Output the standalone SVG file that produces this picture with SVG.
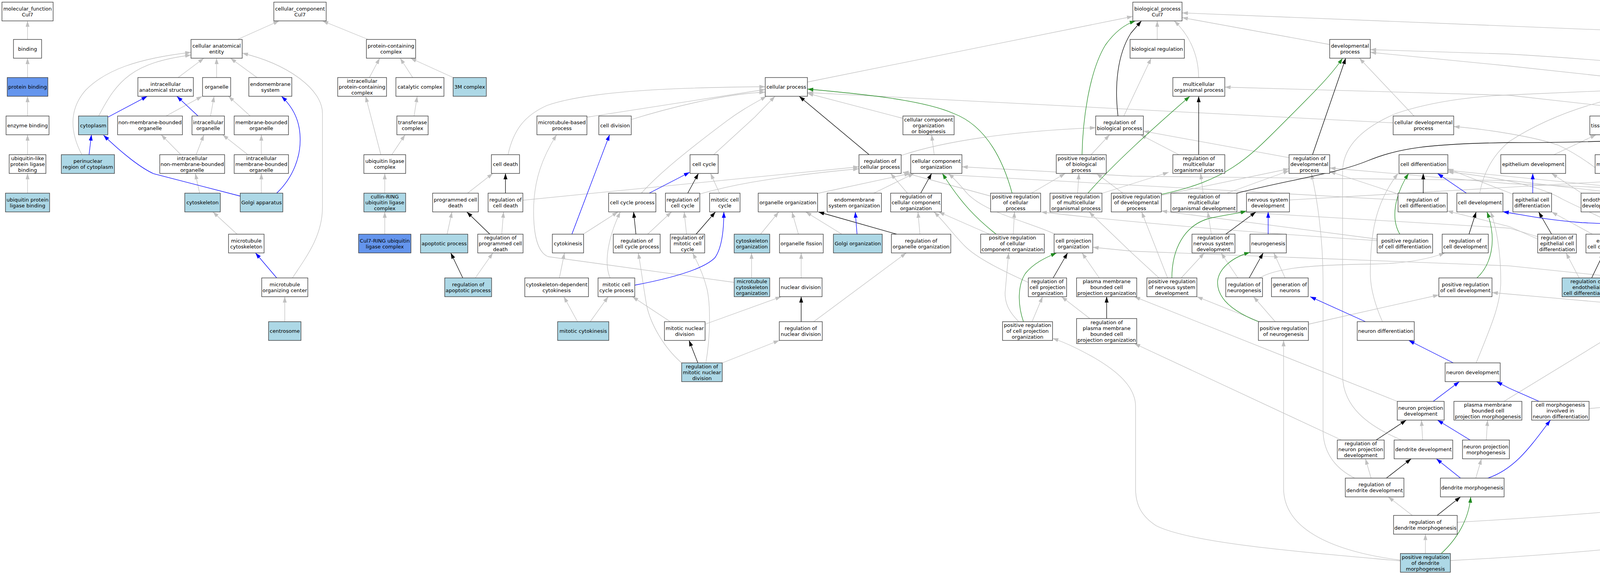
<svg xmlns="http://www.w3.org/2000/svg" width="5792" height="1472" viewBox="0 0 5792 1472">
<style>
.n rect{fill:#fff;stroke:#3c3c3c;stroke-width:1.4}
.lb rect{fill:#add8e6}
.cf rect{fill:#6495ed}
.n text{font-family:"DejaVu Sans","Liberation Sans",sans-serif;font-size:13px;text-anchor:middle;fill:#000}
#edges path{fill:none;stroke-width:1.3}
#edges .g{stroke:#c0c0c0;marker-end:url(#ag)}
#edges .k{stroke:#000;marker-end:url(#ak)}
#edges .b{stroke:#0000ff;marker-end:url(#ab)}
#edges .v{stroke:#228b22;marker-end:url(#av)}
</style>
<defs>
<marker id="ag" viewBox="0 0 15 10" refX="15" refY="5" markerWidth="15" markerHeight="10" orient="auto" markerUnits="userSpaceOnUse"><path d="M0,0L15,5L0,10z" fill="#c0c0c0"/></marker>
<marker id="ak" viewBox="0 0 15 10" refX="15" refY="5" markerWidth="15" markerHeight="10" orient="auto" markerUnits="userSpaceOnUse"><path d="M0,0L15,5L0,10z" fill="#000"/></marker>
<marker id="ab" viewBox="0 0 15 10" refX="15" refY="5" markerWidth="15" markerHeight="10" orient="auto" markerUnits="userSpaceOnUse"><path d="M0,0L15,5L0,10z" fill="#0000ff"/></marker>
<marker id="av" viewBox="0 0 15 10" refX="15" refY="5" markerWidth="15" markerHeight="10" orient="auto" markerUnits="userSpaceOnUse"><path d="M0,0L15,5L0,10z" fill="#228b22"/></marker>
</defs>
<rect width="5792" height="1472" fill="#fff"/>
<g id="edges">
<path class="g" d="M70.5,101L70.5,53.5"/>
<path class="g" d="M70.5,198.5L70.5,149"/>
<path class="g" d="M70.5,297L70.5,246.5"/>
<path class="g" d="M70.5,396L70.5,345"/>
<path class="g" d="M70.5,494.5L70.5,444"/>
<path class="g" d="M608,101L714.6,53.5"/>
<path class="g" d="M942.5,101L825.5,53.5"/>
<path class="g" d="M456,198.5L522,149"/>
<path class="g" d="M554.5,198.5L554.5,149"/>
<path class="g" d="M658,198.5L590,149"/>
<path class="g" d="M252.6,297C300,205 340,160 489,141"/>
<path class="g" d="M209.5,396C180,340 175,280 220,230C270,180 350,150 489,134"/>
<path class="g" d="M425,297L517.5,246.5"/>
<path class="g" d="M539,297L548,246.5"/>
<path class="g" d="M640.6,297L585,246.5"/>
<path class="g" d="M463,396L412.7,345"/>
<path class="g" d="M502,396L522,345"/>
<path class="g" d="M634.5,396L570,345"/>
<path class="g" d="M669,396L669,345"/>
<path class="g" d="M511,494.5L500,444"/>
<path class="g" d="M669,494.5L669,444"/>
<path class="g" d="M606.8,599.5L545,542.5"/>
<path class="g" d="M748.5,711.5C790,650 825.5,600 825.5,530L825.5,290C825.5,230 740,165 620,136"/>
<path class="g" d="M729,823.5L729,759.5"/>
<path class="g" d="M945.6,198.5L972,149"/>
<path class="g" d="M975,396L936,246.5"/>
<path class="g" d="M1003,396L1037,345"/>
<path class="g" d="M1060,297L1068,246.5"/>
<path class="g" d="M1056.5,198.5L1024.5,149"/>
<path class="g" d="M1160,198.5L1051,149"/>
<path class="g" d="M985,494.5L985,444"/>
<path class="g" d="M985,599.5L985,542.5"/>
<path class="b" d="M277,299.5L377,246.5"/>
<path class="b" d="M507,297L452.8,246.5"/>
<path class="b" d="M228,396L234,345"/>
<path class="b" d="M615,502L394,445C360,430 310,390 265,346"/>
<path class="b" d="M708.4,494.5C750,455 772,400 768,345C765,300 745,270 720.7,246.5"/>
<path class="b" d="M708.4,711.5L654,647.5"/>
<path class="g" d="M2067,210L2900,42"/>
<path class="g" d="M3068.6,198.5C3068,140 3045,90 3006,53.5"/>
<path class="g" d="M2962.5,101L2962.5,53.5"/>
<path class="g" d="M3404,114L3026,45"/>
<path class="g" d="M5203.5,121L3026,33"/>
<path class="g" d="M2311.5,303L2067,239"/>
<path class="g" d="M2307,398C2420,360 2600,335 2805,327"/>
<path class="g" d="M3566.5,314.5L2067,237"/>
<path class="g" d="M2391.5,396L2385,345"/>
<path class="g" d="M2093.4,495L2330,444"/>
<path class="g" d="M2237,494.5L2340,444"/>
<path class="g" d="M2323,494.5L2280,444"/>
<path class="g" d="M2536,502L2311,441"/>
<path class="g" d="M3579,512L2311,441"/>
<path class="g" d="M1338.7,512.6L2199,427"/>
<path class="g" d="M1791.6,496.6C1850,480 1950,455 2199,432"/>
<path class="g" d="M2793,396L2840.6,345"/>
<path class="g" d="M2640.6,494.5L2727,444"/>
<path class="g" d="M2758.7,494.5L2762,444"/>
<path class="g" d="M2874.5,494.5L2807,444"/>
<path class="g" d="M2877,297L2947,149"/>
<path class="g" d="M4345,298L3864,244L3135.5,223"/>
<path class="g" d="M3620,297L3480,149"/>
<path class="g" d="M4278,214L3864,169L3508,134"/>
<path class="g" d="M4910,396C4880,340 4850,320 4800,295C4650,220 4400,170 3864,138.5L3508,127"/>
<path class="g" d="M4187,297L4295,246.5"/>
<path class="g" d="M4292,297L4329,246.5"/>
<path class="g" d="M4405,297L4369,246.5"/>
<path class="g" d="M4541.6,396C4542,320 4510,270 4420,244"/>
<path class="g" d="M4764.6,396C4740,300 4660,245 4420,226"/>
<path class="g" d="M3788,494.5C3800,430 3830,390 3864,362C3990,280 4150,240 4278,228"/>
<path class="g" d="M3588,1126.5C3500,1090 3437,1040 3437,960L3437,440C3437,380 3480,330 3575,290C3680,255 3800,245 3864,243L4278,225"/>
<path class="g" d="M2973,500L3300,432"/>
<path class="g" d="M2821,495L2992,441"/>
<path class="g" d="M3080,494.5L3073.6,444"/>
<path class="g" d="M3141,494.5L3300,437"/>
<path class="g" d="M3468,1224C3410,1195 3387,1150 3387,1100L3387,720C3387,600 3370,500 3357,444"/>
<path class="g" d="M3579,496.6L3404,439"/>
<path class="g" d="M3300,403.7L2927,335.6"/>
<path class="g" d="M3018,396L2919.6,345"/>
<path class="g" d="M3101,599.5L3092,542.5"/>
<path class="g" d="M3024,711.5L3083,647.5"/>
<path class="g" d="M2989,711.5L2922.6,542.5"/>
<path class="g" d="M2967,711.5L2898,648L2788,542.5"/>
<path class="g" d="M3525.5,612L2973,540"/>
<path class="g" d="M3525.5,616C3200,595 2900,570 2665,542.5"/>
<path class="g" d="M3264.6,823.5L3209,759.5"/>
<path class="g" d="M3225,823.5L3064,759.5"/>
<path class="g" d="M3349.5,830L3683.5,755"/>
<path class="g" d="M3169,711.5L3126,647.5"/>
<path class="g" d="M3224.5,711.5C3260,690 3330,678 3514,676C3600,675 3660,662 3699,647.5"/>
<path class="g" d="M3290,711.5L3261,647.5"/>
<path class="g" d="M3539,823.5C3520,780 3508,740 3508,700C3508,600 3520,520 3579,444"/>
<path class="g" d="M3779,929C3815,840 3842,780 3842,720C3842,640 3830,580 3816,542.5"/>
<path class="g" d="M3577,1027.5L2904,759.5"/>
<path class="g" d="M3434,1126.5L2904,879.5"/>
<path class="g" d="M3642,1126.5L3639,1075.5"/>
<path class="g" d="M3805,1126.5L3808,1075.5"/>
<path class="g" d="M3778,1224L3792.6,1174.5"/>
<path class="g" d="M3510,1224L3495.6,1174.5"/>
<path class="g" d="M3615.6,1319.5L3554,1272"/>
<path class="g" d="M3731,1337C4200,1310 4600,1270 4680,1220C4740,1180 4751,1140 4751,1100L4751,736C4751,650 4775,600 4794,542.5"/>
<path class="g" d="M3649,1417L3649,1367.5"/>
<path class="g" d="M3713,1435C4200,1410 4650,1350 4760,1300C4820,1270 4833,1240 4833,1200L4833,1040C4833,960 4845,910 4855,879.5"/>
<path class="g" d="M3585,1436C3300,1410 3050,1390 2960,1346C2920,1320 2907,1290 2907,1250L2907,1040C2907,990 2860,950 2800,915C2760,893 2730,878 2694.5,866"/>
<path class="g" d="M3585,1434C3400,1410 3286,1350 3286,1250L3286,871.5"/>
<path class="g" d="M3850,1027.5L4289,759.5"/>
<path class="g" d="M4068,1046C4350,1020 4500,1000 4545,978L4922,647.5"/>
<path class="g" d="M4329,711.5L4337,647.5"/>
<path class="g" d="M4273,723L3864,680.6L2898,643L2797.5,633"/>
<path class="g" d="M4995.6,599.5L5090.7,542.5"/>
<path class="g" d="M4581.7,823.5L4652.5,736L4830,596L4916,542.5"/>
<path class="g" d="M4164,494.5C4100,440 4050,400 3990,372C3930,350 3800,330 3721.5,324"/>
<path class="g" d="M4164,497L3864,462L2898,451L2462.5,427"/>
<path class="g" d="M4294,497C4500,470 4700,455 4866,444"/>
<path class="g" d="M3978,396L4086,345"/>
<path class="g" d="M4166,396L4148.6,345"/>
<path class="g" d="M4344.5,396L4301,345"/>
<path class="g" d="M3873,497L3706,432"/>
<path class="g" d="M4049,494.5L3972,444"/>
<path class="g" d="M4076.5,599.5L3972,542.5"/>
<path class="g" d="M4042.6,711.5L4009,647.5"/>
<path class="g" d="M3936.5,612L3864,580L3705,540"/>
<path class="g" d="M3936.5,606L3864,584L3166,542.5"/>
<path class="g" d="M4317,599.5L4258,542.5"/>
<path class="g" d="M4318.5,497L3706,436"/>
<path class="g" d="M4471,599.5L4409,542.5"/>
<path class="g" d="M4540,494.5L4540,444"/>
<path class="g" d="M4628,599.5C4640,540 4620,480 4582,444"/>
<path class="g" d="M4606,711.5C4680,660 4696,600 4696,520C4696,440 4650,360 4560,290C4520,265 4470,252 4421,246"/>
<path class="g" d="M4440,929C4300,820 4250,760 4240,700C4225,600 4120,570 4000,510C3950,480 3850,455 3706,440"/>
<path class="g" d="M4737.5,506L3864,470L3404,430"/>
<path class="g" d="M3301,512L4468,444"/>
<path class="g" d="M5150,198.5L5228.8,149"/>
<path class="g" d="M5266.5,198.5L5266.5,149"/>
<path class="g" d="M5382,198.5L5308.5,149"/>
<path class="g" d="M5509,202L5329.5,147"/>
<path class="g" d="M5262.5,297L5265.6,246.5"/>
<path class="g" d="M5300.6,297L5380,246.5"/>
<path class="g" d="M5420,297L5420,246.5"/>
<path class="g" d="M5532.5,297L5459,246.5"/>
<path class="g" d="M5568.5,297L5568.5,246.5"/>
<path class="g" d="M5228.8,396C5195,365 5160,320 5125,246.5"/>
<path class="g" d="M5261,396L5261,345"/>
<path class="g" d="M5299.4,396L5382,345"/>
<path class="g" d="M5404.8,396L5413,345"/>
<path class="g" d="M5477,396L5332,347"/>
<path class="g" d="M5553,396L5563,345"/>
<path class="g" d="M5639.8,396L5486.4,345"/>
<path class="g" d="M5667,396L5603,345"/>
<path class="g" d="M5262.5,494.5L5262.5,444"/>
<path class="g" d="M5363.7,494.5L5296,444"/>
<path class="g" d="M5395.7,494.5L5397.5,444"/>
<path class="g" d="M5487.7,497L5321.5,444"/>
<path class="g" d="M5545,494.5L5545,444"/>
<path class="g" d="M5581.6,494.5L5661.3,444"/>
<path class="g" d="M5392,591.5L5393,542.5"/>
<path class="g" d="M5485,596C5440,570 5380,555 5302,540"/>
<path class="g" d="M5704,599.5L5700,444"/>
<path class="g" d="M5392,711.5L5392,655.5"/>
<path class="g" d="M5614,711.5L5572,655.5"/>
<path class="g" d="M5651,711.5L5689,647.5"/>
<path class="g" d="M5392,823.5L5392,759.5"/>
<path class="g" d="M5634.5,823.5L5634.5,759.5"/>
<path class="g" d="M4962,494.5L4943.5,444"/>
<path class="g" d="M5084.6,494.5L4983.4,444"/>
<path class="g" d="M5057,599.5L4872,542.5"/>
<path class="g" d="M5008,703.5L5081.5,647.5"/>
<path class="g" d="M4894.4,815.5L4937,767.5"/>
<path class="g" d="M4789,834.6L3819.5,749"/>
<path class="g" d="M1300.5,396C1315,330 1345,295 1400,270C1500,235 1700,224 1959,222"/>
<path class="g" d="M1502.6,300L1959,229"/>
<path class="g" d="M1616,306C1700,280 1850,240 1959,236"/>
<path class="g" d="M1642,494.5C1690,440 1780,370 1860,310C1900,280 1930,265 1962,246.5"/>
<path class="g" d="M1827,396L1932,300L1984,246.5"/>
<path class="g" d="M1197,494.5L1261.7,444"/>
<path class="g" d="M1842,494.5L1819,444"/>
<path class="g" d="M1144.6,599.5L1157,542.5"/>
<path class="g" d="M1284.5,599.5L1289,542.5"/>
<path class="g" d="M1493,599.5L1582,542.5"/>
<path class="g" d="M1658,599.5L1719,542.5"/>
<path class="g" d="M1757.6,599.5L1751.4,542.5"/>
<path class="g" d="M1216.7,711.5L1261.7,647.5"/>
<path class="g" d="M1432,711.5L1445,647.5"/>
<path class="g" d="M1562,711.5C1548,680 1551,620 1588,542.5"/>
<path class="g" d="M1880,723L1403,657C1375,645 1366,600 1366,540C1366,460 1390,400 1425,345"/>
<path class="g" d="M1807,929C1819,860 1819,780 1810,740C1800,700 1785,670 1773,647.5"/>
<path class="g" d="M1745,929C1700,890 1665,830 1655,780C1645,720 1640,680 1634,647.5"/>
<path class="g" d="M1478.5,823.5L1443.4,759.5"/>
<path class="g" d="M1511,823.5L1557,759.5"/>
<path class="g" d="M1716,823.5L1619,759.5"/>
<path class="g" d="M1805,830L2000,759.5"/>
<path class="g" d="M1849,929L1995,871.5"/>
<path class="g" d="M1924,711.5L1924,647.5"/>
<path class="g" d="M1947,599.5L1993.6,542.5"/>
<path class="g" d="M2044,599.5L2027.5,542.5"/>
<path class="g" d="M2155,599.5L2062.6,542.5"/>
<path class="g" d="M2355,599.5L2350,542.5"/>
<path class="g" d="M2051,711.5L2051,647.5"/>
<path class="g" d="M2083,823.5L2320,647.5"/>
<path class="g" d="M2533,599.5L2403,542.5"/>
<path class="g" d="M2594,599.5L2597,542.5"/>
<path class="g" d="M2701,599.5C2640,570 2520,545 2474,493C2455,470 2440,455 2428,444"/>
<path class="g" d="M2632.5,723C2560,690 2500,660 2470,630C2440,600 2420,570 2391,542.5"/>
<path class="g" d="M2608,823.5C2585,800 2573,780 2573,750L2582,647.5"/>
<path class="g" d="M2642,823.5L2669,759.5"/>
<path class="g" d="M2814,711.5L2770,647.5"/>
<path class="g" d="M2790,815.5L2717.5,759.5"/>
<path class="k" d="M2862,297C2853,220 2860,140 2895,85L2922,53.5"/>
<path class="k" d="M2225,396L2046,246.5"/>
<path class="k" d="M2357,494.5L2385,444"/>
<path class="k" d="M3068.6,396L3068.6,246.5"/>
<path class="k" d="M3360,396L3445,149"/>
<path class="k" d="M3166.6,494.5C3300,460 3420,445 3500,412C3580,380 3650,368 3864,365C4050,366 4200,360 4345,345"/>
<path class="k" d="M3138,599.5L3215,542.5"/>
<path class="k" d="M3198,711.5L3233.7,647.5"/>
<path class="k" d="M3643.5,494.5L3643.5,444"/>
<path class="k" d="M3760.6,599.5L3779,542.5"/>
<path class="k" d="M3523,1126.5L3600,1075.5"/>
<path class="k" d="M3549,1224L3612.6,1174.5"/>
<path class="k" d="M3679,1319.5L3739,1272"/>
<path class="k" d="M4074.7,711.5L4105.5,647.5"/>
<path class="k" d="M3972,599.5L3939,542.5"/>
<path class="k" d="M4839,494.5L4897.5,444"/>
<path class="k" d="M5118,599.5L5127.6,542.5"/>
<path class="k" d="M4963.7,703.5L4959,647.5"/>
<path class="k" d="M1294,494.5L1294,444"/>
<path class="k" d="M1760.6,494.5L1788,444"/>
<path class="k" d="M1254,599.5L1195,542.5"/>
<path class="k" d="M1628,599.5L1622,542.5"/>
<path class="k" d="M1782,599.5L1831.5,542.5"/>
<path class="k" d="M1184.7,711.5L1154,647.5"/>
<path class="k" d="M1786.5,929L1764,871.5"/>
<path class="k" d="M2295.4,599.5L2095,542.5"/>
<path class="k" d="M2051,823.5L2051,759.5"/>
<path class="k" d="M2696,711.5L2733,647.5"/>
<path class="k" d="M2833,815.5L2833,759.5"/>
<path class="b" d="M1662,494.5L1765.6,441"/>
<path class="b" d="M1464,599.5L1560.5,345"/>
<path class="b" d="M1625,730C1720,712 1800,690 1830,660C1848,635 1853,590 1853,542.5"/>
<path class="b" d="M2194,599.5L2189.5,542.5"/>
<path class="b" d="M3246.5,599.5L3246.5,542.5"/>
<path class="b" d="M3754,494.5L3680,444"/>
<path class="b" d="M3495.6,823.5L3354,759.5"/>
<path class="b" d="M3720.4,929L3606.4,871.5"/>
<path class="b" d="M3669,1027.5L3736,977"/>
<path class="b" d="M3940,1027.5L3864,994L3831,977"/>
<path class="b" d="M3763.5,1126.5L3680,1075.5"/>
<path class="b" d="M3739,1224L3677,1174.5"/>
<path class="b" d="M3808.6,1224C3880,1200 3920,1140 3969,1075.5"/>
<path class="b" d="M4200,396L4249,345"/>
<path class="b" d="M4511,396L4455,345"/>
<path class="b" d="M4711.5,401L4504.6,345"/>
<path class="b" d="M3923.8,494.5L3923.8,444"/>
<path class="b" d="M4115,599.5L4101,542.5"/>
<path class="b" d="M4332,494.5L4230.5,444"/>
<path class="b" d="M4599,599.5L4560,542.5"/>
<path class="b" d="M4575.5,711.5L4600,647.5"/>
<path class="b" d="M4565,823.5L4565,759.5"/>
<path class="b" d="M4498.6,929L4541.7,871.5"/>
<path class="b" d="M4902,396L4830,345C4760,290 4620,245 4420,229"/>
<path class="b" d="M4925,494.5L4826,444"/>
<path class="b" d="M4889.5,615L4830,605C4600,585 4300,582 4050,570C3950,562 3900,550 3847.5,542"/>
<path class="b" d="M4379.7,723L4603,676C4700,650 4800,615 4900,580L5068,542.5"/>
<path class="b" d="M5543.5,591.5L5544.7,542.5"/>
<path class="v" d="M2770,396C2772,300 2790,180 2830,115C2855,80 2880,62 2907,53.5"/>
<path class="v" d="M2591,494.5C2565,400 2520,320 2440,290C2360,255 2200,240 2067,228"/>
<path class="v" d="M2785,494.5C2850,420 2950,330 3046,246.5"/>
<path class="v" d="M2973,497.6C3150,460 3200,400 3300,300C3370,230 3410,190 3437,149"/>
<path class="v" d="M2550,599.5C2500,560 2460,520 2412.5,444"/>
<path class="v" d="M2620,823.5C2605,780 2605,730 2625,700C2645,675 2675,660 2705,647.5"/>
<path class="v" d="M3000,711.5C3000,640 3030,575 3100,558C3150,548 3170,546 3191,540"/>
<path class="v" d="M3221.4,823.5C3150,795 3115,760 3117,720C3120,690 3150,660 3200,646"/>
<path class="v" d="M3583.6,599.5C3560,560 3570,500 3606,444"/>
<path class="v" d="M3781,711.5C3815,680 3835,620 3806.6,542.5"/>
<path class="v" d="M3689.5,1417C3730,1380 3760,1330 3765,1272"/>
<path class="v" d="M4864,815.5C4866,760 4880,700 4935,647.5"/>
</g>
<g id="n1" class="n"><rect x="5" y="5.5" width="131" height="48"/><text><tspan x="70.5" y="26.5">molecular_function</tspan><tspan x="70.5" y="41.5">Cul7</tspan></text></g>
<g id="n2" class="n"><rect x="34.5" y="101" width="72" height="48"/><text><tspan x="70.5" y="129.5">binding</tspan></text></g>
<g id="n3" class="n cf"><rect x="18.5" y="198.5" width="104" height="48"/><text><tspan x="70.5" y="227">protein binding</tspan></text></g>
<g id="n4" class="n"><rect x="15.5" y="297" width="110" height="48"/><text><tspan x="70.5" y="325.5">enzyme binding</tspan></text></g>
<g id="n5" class="n"><rect x="23.5" y="396" width="94" height="48"/><text><tspan x="70.5" y="409.5">ubiquitin-like</tspan><tspan x="70.5" y="424.5">protein ligase</tspan><tspan x="70.5" y="439.5">binding</tspan></text></g>
<g id="n6" class="n lb"><rect x="14" y="494.5" width="113" height="48"/><text><tspan x="70.5" y="515.5">ubiquitin protein</tspan><tspan x="70.5" y="530.5">ligase binding</tspan></text></g>
<g id="c0" class="n"><rect x="701" y="5.5" width="134" height="48"/><text><tspan x="768" y="26.5">cellular_component</tspan><tspan x="768" y="41.5">Cul7</tspan></text></g>
<g id="c1" class="n"><rect x="489" y="101" width="131" height="48"/><text><tspan x="554.5" y="122">cellular anatomical</tspan><tspan x="554.5" y="137">entity</tspan></text></g>
<g id="c2" class="n"><rect x="938" y="101" width="126" height="48"/><text><tspan x="1001" y="122">protein-containing</tspan><tspan x="1001" y="137">complex</tspan></text></g>
<g id="c3" class="n"><rect x="353" y="198.5" width="142" height="48"/><text><tspan x="424" y="219.5">intracellular</tspan><tspan x="424" y="234.5">anatomical structure</tspan></text></g>
<g id="c4" class="n"><rect x="518.5" y="198.5" width="72" height="48"/><text><tspan x="554.5" y="227">organelle</tspan></text></g>
<g id="c5" class="n"><rect x="637" y="198.5" width="110" height="48"/><text><tspan x="692" y="219.5">endomembrane</tspan><tspan x="692" y="234.5">system</tspan></text></g>
<g id="c6" class="n"><rect x="864.5" y="198.5" width="125" height="48"/><text><tspan x="927" y="212">intracellular</tspan><tspan x="927" y="227">protein-containing</tspan><tspan x="927" y="242">complex</tspan></text></g>
<g id="c7" class="n"><rect x="1013.5" y="198.5" width="123" height="48"/><text><tspan x="1075" y="227">catalytic complex</tspan></text></g>
<g id="c8" class="n lb"><rect x="1160" y="198.5" width="85" height="48"/><text><tspan x="1202.5" y="227">3M complex</tspan></text></g>
<g id="c9" class="n lb"><rect x="201" y="297" width="75" height="48"/><text><tspan x="238.5" y="325.5">cytoplasm</tspan></text></g>
<g id="c10" class="n"><rect x="301" y="297" width="166" height="48"/><text><tspan x="384" y="318">non-membrane-bounded</tspan><tspan x="384" y="333">organelle</tspan></text></g>
<g id="c11" class="n"><rect x="491.5" y="297" width="83" height="48"/><text><tspan x="533" y="318">intracellular</tspan><tspan x="533" y="333">organelle</tspan></text></g>
<g id="c12" class="n"><rect x="599.5" y="297" width="139" height="48"/><text><tspan x="669" y="318">membrane-bounded</tspan><tspan x="669" y="333">organelle</tspan></text></g>
<g id="c13" class="n"><rect x="1016" y="297" width="80" height="48"/><text><tspan x="1056" y="318">transferase</tspan><tspan x="1056" y="333">complex</tspan></text></g>
<g id="c14" class="n lb"><rect x="157" y="396" width="136" height="48"/><text><tspan x="225" y="417">perinuclear</tspan><tspan x="225" y="432">region of cytoplasm</tspan></text></g>
<g id="c15" class="n"><rect x="409" y="396" width="166" height="48"/><text><tspan x="492" y="409.5">intracellular</tspan><tspan x="492" y="424.5">non-membrane-bounded</tspan><tspan x="492" y="439.5">organelle</tspan></text></g>
<g id="c16" class="n"><rect x="599.5" y="396" width="139" height="48"/><text><tspan x="669" y="409.5">intracellular</tspan><tspan x="669" y="424.5">membrane-bounded</tspan><tspan x="669" y="439.5">organelle</tspan></text></g>
<g id="c17" class="n"><rect x="931.5" y="396" width="107" height="48"/><text><tspan x="985" y="417">ubiquitin ligase</tspan><tspan x="985" y="432">complex</tspan></text></g>
<g id="c18" class="n lb"><rect x="473" y="494.5" width="91" height="48"/><text><tspan x="518.5" y="523">cytoskeleton</tspan></text></g>
<g id="c19" class="n lb"><rect x="615" y="494.5" width="109" height="48"/><text><tspan x="669.5" y="523">Golgi apparatus</tspan></text></g>
<g id="c20" class="n lb"><rect x="931.5" y="494.5" width="107" height="48"/><text><tspan x="985" y="508">cullin-RING</tspan><tspan x="985" y="523">ubiquitin ligase</tspan><tspan x="985" y="538">complex</tspan></text></g>
<g id="c21" class="n"><rect x="585" y="599.5" width="91" height="48"/><text><tspan x="630.5" y="620.5">microtubule</tspan><tspan x="630.5" y="635.5">cytoskeleton</tspan></text></g>
<g id="c22" class="n cf"><rect x="918" y="599.5" width="134" height="48"/><text><tspan x="985" y="620.5">Cul7-RING ubiquitin</tspan><tspan x="985" y="635.5">ligase complex</tspan></text></g>
<g id="c23" class="n"><rect x="670" y="711.5" width="118" height="48"/><text><tspan x="729" y="732.5">microtubule</tspan><tspan x="729" y="747.5">organizing center</tspan></text></g>
<g id="c24" class="n lb"><rect x="687.5" y="823.5" width="83" height="48"/><text><tspan x="729" y="852">centrosome</tspan></text></g>
<g id="b0" class="n"><rect x="2900" y="5.5" width="126" height="48"/><text><tspan x="2963" y="26.5">biological_process</tspan><tspan x="2963" y="41.5">Cul7</tspan></text></g>
<g id="b1" class="n"><rect x="2893" y="101" width="139" height="48"/><text><tspan x="2962.5" y="129.5">biological regulation</tspan></text></g>
<g id="b2" class="n"><rect x="3404" y="101" width="104" height="48"/><text><tspan x="3456" y="122">developmental</tspan><tspan x="3456" y="137">process</tspan></text></g>
<g id="b3" class="n"><rect x="5203.5" y="101" width="126" height="48"/><text><tspan x="5266.5" y="129.5">metabolic process</tspan></text></g>
<g id="b4" class="n"><rect x="1959" y="198.5" width="108" height="48"/><text><tspan x="2013" y="227">cellular process</tspan></text></g>
<g id="b5" class="n"><rect x="3002.5" y="198.5" width="133" height="48"/><text><tspan x="3069" y="219.5">multicellular</tspan><tspan x="3069" y="234.5">organismal process</tspan></text></g>
<g id="b6" class="n"><rect x="4278" y="198.5" width="142" height="48"/><text><tspan x="4349" y="219.5">anatomical structure</tspan><tspan x="4349" y="234.5">development</tspan></text></g>
<g id="b7" class="n"><rect x="5050" y="198.5" width="126" height="48"/><text><tspan x="5113" y="219.5">primary metabolic</tspan><tspan x="5113" y="234.5">process</tspan></text></g>
<g id="b8" class="n"><rect x="5200.5" y="198.5" width="132" height="48"/><text><tspan x="5266.5" y="219.5">nitrogen compound</tspan><tspan x="5266.5" y="234.5">metabolic process</tspan></text></g>
<g id="b9" class="n"><rect x="5357" y="198.5" width="126" height="48"/><text><tspan x="5420" y="219.5">organic substance</tspan><tspan x="5420" y="234.5">metabolic process</tspan></text></g>
<g id="b10" class="n"><rect x="5509" y="198.5" width="118" height="48"/><text><tspan x="5568" y="227">catabolic process</tspan></text></g>
<g id="b11" class="n"><rect x="1374.5" y="297" width="128" height="48"/><text><tspan x="1438.5" y="318">microtubule-based</tspan><tspan x="1438.5" y="333">process</tspan></text></g>
<g id="b12" class="n"><rect x="1533" y="297" width="83" height="48"/><text><tspan x="1574.5" y="325.5">cell division</tspan></text></g>
<g id="b13" class="n"><rect x="2311.5" y="297" width="131" height="48"/><text><tspan x="2377" y="310.5">cellular component</tspan><tspan x="2377" y="325.5">organization</tspan><tspan x="2377" y="340.5">or biogenesis</tspan></text></g>
<g id="b14" class="n"><rect x="2805" y="297" width="122" height="48"/><text><tspan x="2866" y="318">regulation of</tspan><tspan x="2866" y="333">biological process</tspan></text></g>
<g id="b15" class="n"><rect x="3566.5" y="297" width="155" height="48"/><text><tspan x="3644" y="318">cellular developmental</tspan><tspan x="3644" y="333">process</tspan></text></g>
<g id="b16" class="n"><rect x="4070" y="297" width="134" height="48"/><text><tspan x="4137" y="325.5">tissue development</tspan></text></g>
<g id="b17" class="n"><rect x="4228.5" y="297" width="92" height="48"/><text><tspan x="4274.5" y="318">animal organ</tspan><tspan x="4274.5" y="333">development</tspan></text></g>
<g id="b18" class="n"><rect x="4345" y="297" width="157" height="48"/><text><tspan x="4423.5" y="318">multicellular</tspan><tspan x="4423.5" y="333">organism development</tspan></text></g>
<g id="b19" class="n"><rect x="5190" y="297" width="142" height="48"/><text><tspan x="5261" y="310.5">organonitrogen</tspan><tspan x="5261" y="325.5">compound metabolic</tspan><tspan x="5261" y="340.5">process</tspan></text></g>
<g id="b20" class="n"><rect x="5357" y="297" width="126" height="48"/><text><tspan x="5420" y="318">macromolecule</tspan><tspan x="5420" y="333">metabolic process</tspan></text></g>
<g id="b21" class="n"><rect x="5507" y="297" width="124" height="48"/><text><tspan x="5569" y="318">organic substance</tspan><tspan x="5569" y="333">catabolic process</tspan></text></g>
<g id="b22" class="n"><rect x="1258" y="396" width="72" height="48"/><text><tspan x="1294" y="424.5">cell death</tspan></text></g>
<g id="b23" class="n"><rect x="1766.5" y="396" width="72" height="48"/><text><tspan x="1802.5" y="424.5">cell cycle</tspan></text></g>
<g id="b24" class="n"><rect x="2199" y="396" width="108" height="48"/><text><tspan x="2253" y="417">regulation of</tspan><tspan x="2253" y="432">cellular process</tspan></text></g>
<g id="b25" class="n"><rect x="2331.5" y="396" width="131" height="48"/><text><tspan x="2397" y="417">cellular component</tspan><tspan x="2397" y="432">organization</tspan></text></g>
<g id="b26" class="n"><rect x="2704" y="396" width="128" height="48"/><text><tspan x="2768" y="409.5">positive regulation</tspan><tspan x="2768" y="424.5">of biological</tspan><tspan x="2768" y="439.5">process</tspan></text></g>
<g id="b27" class="n"><rect x="3002.5" y="396" width="133" height="48"/><text><tspan x="3069" y="409.5">regulation of</tspan><tspan x="3069" y="424.5">multicellular</tspan><tspan x="3069" y="439.5">organismal process</tspan></text></g>
<g id="b28" class="n"><rect x="3300" y="396" width="104" height="48"/><text><tspan x="3352" y="409.5">regulation of</tspan><tspan x="3352" y="424.5">developmental</tspan><tspan x="3352" y="439.5">process</tspan></text></g>
<g id="b29" class="n"><rect x="3581.5" y="396" width="125" height="48"/><text><tspan x="3644" y="424.5">cell differentiation</tspan></text></g>
<g id="b30" class="n"><rect x="3842" y="396" width="166" height="48"/><text><tspan x="3925" y="424.5">epithelium development</tspan></text></g>
<g id="b31" class="n"><rect x="4083.5" y="396" width="184" height="48"/><text><tspan x="4175.5" y="424.5">mesenchyme development</tspan></text></g>
<g id="b32" class="n lb"><rect x="4291" y="396" width="152" height="48"/><text><tspan x="4367" y="424.5">placenta development</tspan></text></g>
<g id="b33" class="n"><rect x="4468" y="396" width="144" height="48"/><text><tspan x="4540" y="424.5">system development</tspan></text></g>
<g id="b34" class="n"><rect x="4711.5" y="396" width="126" height="48"/><text><tspan x="4774.5" y="424.5">tube development</tspan></text></g>
<g id="b35" class="n"><rect x="4861" y="396" width="141" height="48"/><text><tspan x="4931.5" y="417">anatomical structure</tspan><tspan x="4931.5" y="432">morphogenesis</tspan></text></g>
<g id="b36" class="n"><rect x="5200.5" y="396" width="121" height="48"/><text><tspan x="5261" y="417">protein metabolic</tspan><tspan x="5261" y="432">process</tspan></text></g>
<g id="b37" class="n"><rect x="5346.5" y="396" width="107" height="48"/><text><tspan x="5400" y="417">macromolecule</tspan><tspan x="5400" y="432">modification</tspan></text></g>
<g id="b38" class="n"><rect x="5478.5" y="396" width="136" height="48"/><text><tspan x="5546.5" y="409.5">organonitrogen</tspan><tspan x="5546.5" y="424.5">compound catabolic</tspan><tspan x="5546.5" y="439.5">process</tspan></text></g>
<g id="b39" class="n"><rect x="5639.5" y="396" width="118" height="48"/><text><tspan x="5698.5" y="417">macromolecule</tspan><tspan x="5698.5" y="432">catabolic process</tspan></text></g>
<g id="b40" class="n"><rect x="1107.5" y="494.5" width="117" height="48"/><text><tspan x="1166" y="515.5">programmed cell</tspan><tspan x="1166" y="530.5">death</tspan></text></g>
<g id="b41" class="n"><rect x="1249.5" y="494.5" width="89" height="48"/><text><tspan x="1294" y="515.5">regulation of</tspan><tspan x="1294" y="530.5">cell death</tspan></text></g>
<g id="b42" class="n"><rect x="1558" y="494.5" width="121" height="48"/><text><tspan x="1618.5" y="523">cell cycle process</tspan></text></g>
<g id="b43" class="n"><rect x="1703.5" y="494.5" width="88" height="48"/><text><tspan x="1747.5" y="515.5">regulation of</tspan><tspan x="1747.5" y="530.5">cell cycle</tspan></text></g>
<g id="b44" class="n"><rect x="1816.5" y="494.5" width="78" height="48"/><text><tspan x="1855.5" y="515.5">mitotic cell</tspan><tspan x="1855.5" y="530.5">cycle</tspan></text></g>
<g id="b45" class="n"><rect x="1941" y="494.5" width="152" height="48"/><text><tspan x="2017" y="523">organelle organization</tspan></text></g>
<g id="b46" class="n"><rect x="2117.5" y="494.5" width="139" height="48"/><text><tspan x="2187" y="515.5">endomembrane</tspan><tspan x="2187" y="530.5">system organization</tspan></text></g>
<g id="b47" class="n"><rect x="2280" y="494.5" width="130" height="48"/><text><tspan x="2345" y="508">regulation of</tspan><tspan x="2345" y="523">cellular component</tspan><tspan x="2345" y="538">organization</tspan></text></g>
<g id="b48" class="n"><rect x="2536" y="494.5" width="128" height="48"/><text><tspan x="2600" y="508">positive regulation</tspan><tspan x="2600" y="523">of cellular</tspan><tspan x="2600" y="538">process</tspan></text></g>
<g id="b49" class="n"><rect x="2688" y="494.5" width="133" height="48"/><text><tspan x="2754.5" y="508">positive regulation</tspan><tspan x="2754.5" y="523">of multicellular</tspan><tspan x="2754.5" y="538">organismal process</tspan></text></g>
<g id="b50" class="n"><rect x="2845" y="494.5" width="128" height="48"/><text><tspan x="2909" y="508">positive regulation</tspan><tspan x="2909" y="523">of developmental</tspan><tspan x="2909" y="538">process</tspan></text></g>
<g id="b51" class="n"><rect x="2997.5" y="494.5" width="169" height="48"/><text><tspan x="3082" y="508">regulation of</tspan><tspan x="3082" y="523">multicellular</tspan><tspan x="3082" y="538">organismal development</tspan></text></g>
<g id="b52" class="n"><rect x="3191" y="494.5" width="110" height="48"/><text><tspan x="3246" y="515.5">nervous system</tspan><tspan x="3246" y="530.5">development</tspan></text></g>
<g id="b53" class="n"><rect x="3579" y="494.5" width="126" height="48"/><text><tspan x="3642" y="515.5">regulation of</tspan><tspan x="3642" y="530.5">cell differentiation</tspan></text></g>
<g id="b54" class="n"><rect x="3729.5" y="494.5" width="118" height="48"/><text><tspan x="3788.5" y="523">cell development</tspan></text></g>
<g id="b55" class="n"><rect x="3873" y="494.5" width="99" height="48"/><text><tspan x="3922.5" y="515.5">epithelial cell</tspan><tspan x="3922.5" y="530.5">differentiation</tspan></text></g>
<g id="b56" class="n"><rect x="4047.5" y="494.5" width="91" height="48"/><text><tspan x="4093" y="515.5">endothelium</tspan><tspan x="4093" y="530.5">development</tspan></text></g>
<g id="b57" class="n"><rect x="4164" y="494.5" width="130" height="48"/><text><tspan x="4229" y="515.5">cellular component</tspan><tspan x="4229" y="530.5">morphogenesis</tspan></text></g>
<g id="b58" class="n"><rect x="4318.5" y="494.5" width="125" height="48"/><text><tspan x="4381" y="515.5">mesenchymal</tspan><tspan x="4381" y="530.5">cell differentiation</tspan></text></g>
<g id="b59" class="n"><rect x="4468" y="494.5" width="144" height="48"/><text><tspan x="4540" y="515.5">circulatory</tspan><tspan x="4540" y="530.5">system development</tspan></text></g>
<g id="b60" class="n"><rect x="4737.5" y="494.5" width="141" height="48"/><text><tspan x="4808" y="508">regulation of</tspan><tspan x="4808" y="523">anatomical structure</tspan><tspan x="4808" y="538">morphogenesis</tspan></text></g>
<g id="b61" class="n"><rect x="4902.5" y="494.5" width="139" height="48"/><text><tspan x="4972" y="523">tube morphogenesis</tspan></text></g>
<g id="b62" class="n"><rect x="5065" y="494.5" width="134" height="48"/><text><tspan x="5132" y="523">cell morphogenesis</tspan></text></g>
<g id="b63" class="n"><rect x="5224" y="494.5" width="78" height="48"/><text><tspan x="5263" y="523">proteolysis</tspan></text></g>
<g id="b64" class="n"><rect x="5326.5" y="494.5" width="136" height="48"/><text><tspan x="5394.5" y="515.5">protein modification</tspan><tspan x="5394.5" y="530.5">process</tspan></text></g>
<g id="b65" class="n"><rect x="5487.5" y="494.5" width="115" height="48"/><text><tspan x="5545" y="515.5">protein catabolic</tspan><tspan x="5545" y="530.5">process</tspan></text></g>
<g id="b66" class="n lb"><rect x="1076.5" y="599.5" width="121" height="48"/><text><tspan x="1137" y="628">apoptotic process</tspan></text></g>
<g id="b67" class="n"><rect x="1223" y="599.5" width="116" height="48"/><text><tspan x="1281" y="613">regulation of</tspan><tspan x="1281" y="628">programmed cell</tspan><tspan x="1281" y="643">death</tspan></text></g>
<g id="b68" class="n"><rect x="1414" y="599.5" width="80" height="48"/><text><tspan x="1454" y="628">cytokinesis</tspan></text></g>
<g id="b69" class="n"><rect x="1570" y="599.5" width="120" height="48"/><text><tspan x="1630" y="620.5">regulation of</tspan><tspan x="1630" y="635.5">cell cycle process</tspan></text></g>
<g id="b70" class="n"><rect x="1716" y="599.5" width="88" height="48"/><text><tspan x="1760" y="613">regulation of</tspan><tspan x="1760" y="628">mitotic cell</tspan><tspan x="1760" y="643">cycle</tspan></text></g>
<g id="b71" class="n lb"><rect x="1879.5" y="599.5" width="91" height="48"/><text><tspan x="1925" y="620.5">cytoskeleton</tspan><tspan x="1925" y="635.5">organization</tspan></text></g>
<g id="b72" class="n"><rect x="1995.5" y="599.5" width="112" height="48"/><text><tspan x="2051.5" y="628">organelle fission</tspan></text></g>
<g id="b73" class="n lb"><rect x="2133.5" y="599.5" width="125" height="48"/><text><tspan x="2196" y="628">Golgi organization</tspan></text></g>
<g id="b74" class="n"><rect x="2282" y="599.5" width="152" height="48"/><text><tspan x="2358" y="620.5">regulation of</tspan><tspan x="2358" y="635.5">organelle organization</tspan></text></g>
<g id="b75" class="n"><rect x="2510.5" y="599.5" width="163" height="48"/><text><tspan x="2592" y="613">positive regulation</tspan><tspan x="2592" y="628">of cellular</tspan><tspan x="2592" y="643">component organization</tspan></text></g>
<g id="b76" class="n"><rect x="2698.5" y="599.5" width="99" height="48"/><text><tspan x="2748" y="620.5">cell projection</tspan><tspan x="2748" y="635.5">organization</tspan></text></g>
<g id="b77" class="n"><rect x="3051.5" y="599.5" width="110" height="48"/><text><tspan x="3106.5" y="613">regulation of</tspan><tspan x="3106.5" y="628">nervous system</tspan><tspan x="3106.5" y="643">development</tspan></text></g>
<g id="b78" class="n"><rect x="3200" y="599.5" width="93" height="48"/><text><tspan x="3246.5" y="628">neurogenesis</tspan></text></g>
<g id="b79" class="n"><rect x="3525.5" y="599.5" width="142" height="48"/><text><tspan x="3596.5" y="620.5">positive regulation</tspan><tspan x="3596.5" y="635.5">of cell differentiation</tspan></text></g>
<g id="b80" class="n"><rect x="3692" y="599.5" width="118" height="48"/><text><tspan x="3751" y="620.5">regulation of</tspan><tspan x="3751" y="635.5">cell development</tspan></text></g>
<g id="b81" class="n"><rect x="3936.5" y="599.5" width="99" height="48"/><text><tspan x="3986" y="613">regulation of</tspan><tspan x="3986" y="628">epithelial cell</tspan><tspan x="3986" y="643">differentiation</tspan></text></g>
<g id="b82" class="n"><rect x="4060" y="599.5" width="126" height="48"/><text><tspan x="4123" y="620.5">endothelial</tspan><tspan x="4123" y="635.5">cell differentiation</tspan></text></g>
<g id="b83" class="n"><rect x="4259.5" y="599.5" width="163" height="48"/><text><tspan x="4341" y="628">cell part morphogenesis</tspan></text></g>
<g id="b84" class="n lb"><rect x="4446.5" y="599.5" width="99" height="48"/><text><tspan x="4496" y="613">epithelial to</tspan><tspan x="4496" y="628">mesenchymal</tspan><tspan x="4496" y="643">transition</tspan></text></g>
<g id="b85" class="n"><rect x="4570" y="599.5" width="91" height="48"/><text><tspan x="4615.5" y="620.5">vasculature</tspan><tspan x="4615.5" y="635.5">development</tspan></text></g>
<g id="b86" class="n"><rect x="4889.5" y="599.5" width="133" height="48"/><text><tspan x="4956" y="613">cell morphogenesis</tspan><tspan x="4956" y="628">involved in</tspan><tspan x="4956" y="643">differentiation</tspan></text></g>
<g id="b87" class="n"><rect x="5046.5" y="599.5" width="133" height="48"/><text><tspan x="5113" y="620.5">regulation of</tspan><tspan x="5113" y="635.5">cell morphogenesis</tspan></text></g>
<g id="b88" class="n"><rect x="5324.5" y="591.5" width="135" height="64"/><text><tspan x="5392" y="605.5">protein modification</tspan><tspan x="5392" y="620.5">by small protein</tspan><tspan x="5392" y="635.5">conjugation</tspan><tspan x="5392" y="650.5">or removal</tspan></text></g>
<g id="b89" class="n"><rect x="5485" y="591.5" width="115" height="64"/><text><tspan x="5542.5" y="605.5">proteolysis</tspan><tspan x="5542.5" y="620.5">involved in</tspan><tspan x="5542.5" y="635.5">protein catabolic</tspan><tspan x="5542.5" y="650.5">process</tspan></text></g>
<g id="b90" class="n"><rect x="5624" y="599.5" width="161" height="48"/><text><tspan x="5704.5" y="613">modification-dependent</tspan><tspan x="5704.5" y="628">macromolecule</tspan><tspan x="5704.5" y="643">catabolic process</tspan></text></g>
<g id="b91" class="n lb"><rect x="1138.5" y="711.5" width="120" height="48"/><text><tspan x="1198.5" y="732.5">regulation of</tspan><tspan x="1198.5" y="747.5">apoptotic process</tspan></text></g>
<g id="b92" class="n"><rect x="1343.5" y="711.5" width="163" height="48"/><text><tspan x="1425" y="732.5">cytoskeleton-dependent</tspan><tspan x="1425" y="747.5">cytokinesis</tspan></text></g>
<g id="b93" class="n"><rect x="1531" y="711.5" width="94" height="48"/><text><tspan x="1578" y="732.5">mitotic cell</tspan><tspan x="1578" y="747.5">cycle process</tspan></text></g>
<g id="b94" class="n lb"><rect x="1879.5" y="711.5" width="91" height="48"/><text><tspan x="1925" y="725">microtubule</tspan><tspan x="1925" y="740">cytoskeleton</tspan><tspan x="1925" y="755">organization</tspan></text></g>
<g id="b95" class="n"><rect x="1995.5" y="711.5" width="109" height="48"/><text><tspan x="2050" y="740">nuclear division</tspan></text></g>
<g id="b96" class="n"><rect x="2632.5" y="711.5" width="98" height="48"/><text><tspan x="2681.5" y="725">regulation of</tspan><tspan x="2681.5" y="740">cell projection</tspan><tspan x="2681.5" y="755">organization</tspan></text></g>
<g id="b97" class="n"><rect x="2756" y="711.5" width="154" height="48"/><text><tspan x="2833" y="725">plasma membrane</tspan><tspan x="2833" y="740">bounded cell</tspan><tspan x="2833" y="755">projection organization</tspan></text></g>
<g id="b98" class="n"><rect x="2936" y="711.5" width="128" height="48"/><text><tspan x="3000" y="725">positive regulation</tspan><tspan x="3000" y="740">of nervous system</tspan><tspan x="3000" y="755">development</tspan></text></g>
<g id="b99" class="n"><rect x="3138" y="711.5" width="94" height="48"/><text><tspan x="3185" y="732.5">regulation of</tspan><tspan x="3185" y="747.5">neurogenesis</tspan></text></g>
<g id="b100" class="n"><rect x="3255" y="711.5" width="94" height="48"/><text><tspan x="3302" y="732.5">generation of</tspan><tspan x="3302" y="747.5">neurons</tspan></text></g>
<g id="b101" class="n"><rect x="3683.5" y="711.5" width="136" height="48"/><text><tspan x="3751.5" y="732.5">positive regulation</tspan><tspan x="3751.5" y="747.5">of cell development</tspan></text></g>
<g id="b102" class="n lb"><rect x="3999" y="711.5" width="125" height="48"/><text><tspan x="4061.5" y="725">regulation of</tspan><tspan x="4061.5" y="740">endothelial</tspan><tspan x="4061.5" y="755">cell differentiation</tspan></text></g>
<g id="b103" class="n"><rect x="4272.5" y="711.5" width="107" height="48"/><text><tspan x="4326" y="732.5">cell projection</tspan><tspan x="4326" y="747.5">morphogenesis</tspan></text></g>
<g id="b104" class="n"><rect x="4519.5" y="711.5" width="91" height="48"/><text><tspan x="4565" y="732.5">blood vessel</tspan><tspan x="4565" y="747.5">development</tspan></text></g>
<g id="b105" class="n"><rect x="4901" y="703.5" width="133" height="64"/><text><tspan x="4967.5" y="717.5">regulation of</tspan><tspan x="4967.5" y="732.5">cell morphogenesis</tspan><tspan x="4967.5" y="747.5">involved in</tspan><tspan x="4967.5" y="762.5">differentiation</tspan></text></g>
<g id="b106" class="n"><rect x="5324.5" y="711.5" width="135" height="48"/><text><tspan x="5392" y="725">protein modification</tspan><tspan x="5392" y="740">by small protein</tspan><tspan x="5392" y="755">conjugation</tspan></text></g>
<g id="b107" class="n"><rect x="5554.5" y="711.5" width="160" height="48"/><text><tspan x="5634.5" y="725">modification-dependent</tspan><tspan x="5634.5" y="740">protein catabolic</tspan><tspan x="5634.5" y="755">process</tspan></text></g>
<g id="b108" class="n lb"><rect x="1427.5" y="823.5" width="131" height="48"/><text><tspan x="1493" y="852">mitotic cytokinesis</tspan></text></g>
<g id="b109" class="n"><rect x="1701" y="823.5" width="104" height="48"/><text><tspan x="1753" y="844.5">mitotic nuclear</tspan><tspan x="1753" y="859.5">division</tspan></text></g>
<g id="b110" class="n"><rect x="1995" y="823.5" width="110" height="48"/><text><tspan x="2050" y="844.5">regulation of</tspan><tspan x="2050" y="859.5">nuclear division</tspan></text></g>
<g id="b111" class="n"><rect x="2566.5" y="823.5" width="128" height="48"/><text><tspan x="2630.5" y="837">positive regulation</tspan><tspan x="2630.5" y="852">of cell projection</tspan><tspan x="2630.5" y="867">organization</tspan></text></g>
<g id="b112" class="n"><rect x="2756" y="815.5" width="154" height="64"/><text><tspan x="2833" y="829.5">regulation of</tspan><tspan x="2833" y="844.5">plasma membrane</tspan><tspan x="2833" y="859.5">bounded cell</tspan><tspan x="2833" y="874.5">projection organization</tspan></text></g>
<g id="b113" class="n"><rect x="3221.5" y="823.5" width="128" height="48"/><text><tspan x="3285.5" y="844.5">positive regulation</tspan><tspan x="3285.5" y="859.5">of neurogenesis</tspan></text></g>
<g id="b114" class="n"><rect x="3474.5" y="823.5" width="146" height="48"/><text><tspan x="3547.5" y="852">neuron differentiation</tspan></text></g>
<g id="b115" class="n"><rect x="4511.5" y="823.5" width="107" height="48"/><text><tspan x="4565" y="844.5">blood vessel</tspan><tspan x="4565" y="859.5">morphogenesis</tspan></text></g>
<g id="b116" class="n"><rect x="4789" y="815.5" width="150" height="64"/><text><tspan x="4864" y="829.5">positive regulation</tspan><tspan x="4864" y="844.5">of cell morphogenesis</tspan><tspan x="4864" y="859.5">involved in</tspan><tspan x="4864" y="874.5">differentiation</tspan></text></g>
<g id="b117" class="n lb"><rect x="5318.5" y="823.5" width="147" height="48"/><text><tspan x="5392" y="852">protein ubiquitination</tspan></text></g>
<g id="b118" class="n lb"><rect x="5566" y="823.5" width="137" height="48"/><text><tspan x="5634.5" y="837">ubiquitin-dependent</tspan><tspan x="5634.5" y="852">protein catabolic</tspan><tspan x="5634.5" y="867">process</tspan></text></g>
<g id="b119" class="n lb"><rect x="1745" y="929" width="104" height="48"/><text><tspan x="1797" y="942.5">regulation of</tspan><tspan x="1797" y="957.5">mitotic nuclear</tspan><tspan x="1797" y="972.5">division</tspan></text></g>
<g id="b120" class="n"><rect x="3699.5" y="929" width="141" height="48"/><text><tspan x="3770" y="957.5">neuron development</tspan></text></g>
<g id="b121" class="n cf"><rect x="4425" y="929" width="107" height="48"/><text><tspan x="4478.5" y="957.5">vasculogenesis</tspan></text></g>
<g id="b122" class="n"><rect x="3577" y="1027.5" width="120" height="48"/><text><tspan x="3637" y="1048.5">neuron projection</tspan><tspan x="3637" y="1063.5">development</tspan></text></g>
<g id="b123" class="n"><rect x="3722" y="1027.5" width="174" height="48"/><text><tspan x="3809" y="1041">plasma membrane</tspan><tspan x="3809" y="1056">bounded cell</tspan><tspan x="3809" y="1071">projection morphogenesis</tspan></text></g>
<g id="b124" class="n"><rect x="3921" y="1027.5" width="147" height="48"/><text><tspan x="3994.5" y="1041">cell morphogenesis</tspan><tspan x="3994.5" y="1056">involved in</tspan><tspan x="3994.5" y="1071">neuron differentiation</tspan></text></g>
<g id="b125" class="n"><rect x="3423.5" y="1126.5" width="120" height="48"/><text><tspan x="3483.5" y="1140">regulation of</tspan><tspan x="3483.5" y="1155">neuron projection</tspan><tspan x="3483.5" y="1170">development</tspan></text></g>
<g id="b126" class="n"><rect x="3569" y="1126.5" width="150" height="48"/><text><tspan x="3644" y="1155">dendrite development</tspan></text></g>
<g id="b127" class="n"><rect x="3744" y="1126.5" width="120" height="48"/><text><tspan x="3804" y="1147.5">neuron projection</tspan><tspan x="3804" y="1162.5">morphogenesis</tspan></text></g>
<g id="b128" class="n"><rect x="3444" y="1224" width="150" height="48"/><text><tspan x="3519" y="1245">regulation of</tspan><tspan x="3519" y="1260">dendrite development</tspan></text></g>
<g id="b129" class="n"><rect x="3687.5" y="1224" width="163" height="48"/><text><tspan x="3769" y="1252.5">dendrite morphogenesis</tspan></text></g>
<g id="b130" class="n"><rect x="3567.5" y="1319.5" width="163" height="48"/><text><tspan x="3649" y="1340.5">regulation of</tspan><tspan x="3649" y="1355.5">dendrite morphogenesis</tspan></text></g>
<g id="b131" class="n lb"><rect x="3585" y="1417" width="128" height="48"/><text><tspan x="3649" y="1430.5">positive regulation</tspan><tspan x="3649" y="1445.5">of dendrite</tspan><tspan x="3649" y="1460.5">morphogenesis</tspan></text></g>
</svg>
